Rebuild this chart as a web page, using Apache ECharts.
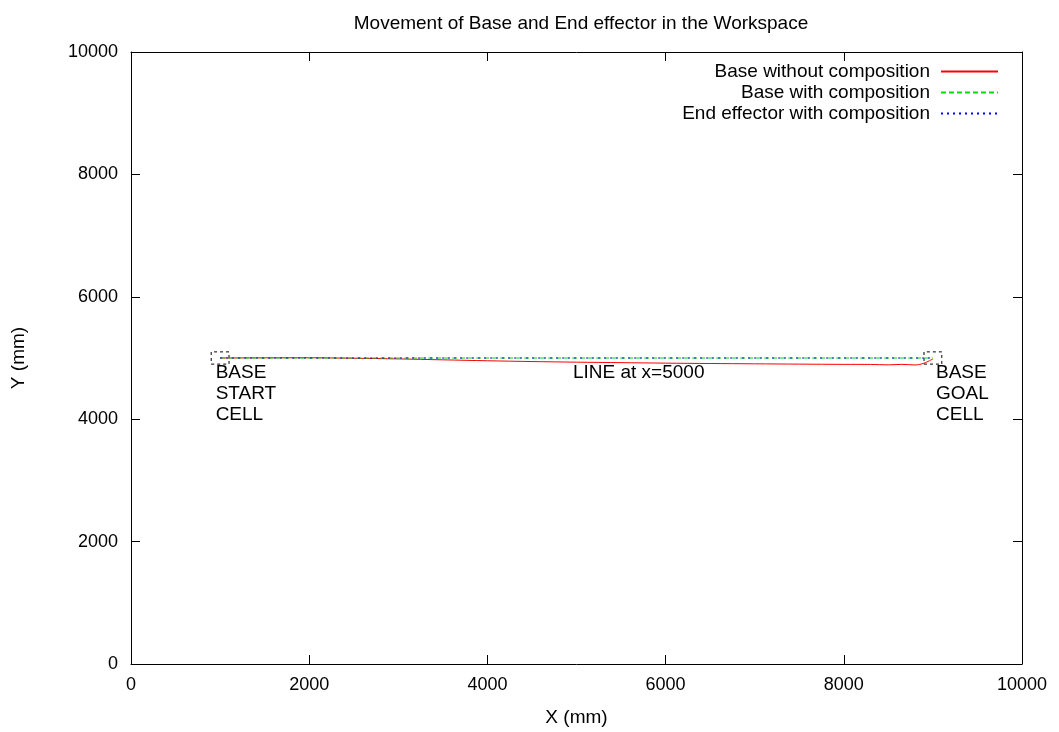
<!DOCTYPE html>
<html>
<head>
<meta charset="utf-8">
<script src="https://cdn.jsdelivr.net/npm/echarts@6/dist/echarts.min.js"></script>
<style>html,body{margin:0;padding:0;background:#fff}#c{width:1059px;height:732px}</style>
</head>
<body>
<div id="c"></div>
<script>
// ---- data ----
const titleText = 'Movement of Base and End effector in the Workspace';
const seriesNames = ['Base without composition', 'Base with composition', 'End effector with composition'];
const redX = [1000, 1500, 2000, 2500, 3000, 3500, 4000, 4500, 5000, 5500, 6000, 6500, 7000, 7500, 8000, 8300, 8500, 8650, 8800, 8900, 9000];
const redY = [5000, 5003, 5004, 4996, 4985, 4970, 4955, 4942, 4932, 4924, 4916, 4910, 4905, 4900, 4896, 4895, 4888, 4896, 4886, 4915, 4985];
const greenX = [1000, 9000];
const greenY = [5000, 5000];
const blueX = [1000, 9000];
const blueY = [5000, 5000];
const cellCentersX = [1000, 9000];
const cellCentersY = [5000, 5000];
const cellHalf = 100;
const labelTexts = ['BASE\nSTART\nCELL', 'LINE at x=5000', 'BASE\nGOAL\nCELL'];
const labelX = [950, 4960, 9035];
const labelY = [4925, 4925, 4925];

const pairs = (xs, ys) => xs.map((x, i) => [x, ys[i]]);
const FONT = '"Liberation Sans", Arial, sans-serif';

// cell rectangles (separated by gaps)
const cellData = [];
cellCentersX.forEach((cx, i) => {
  const cy = cellCentersY[i];
  cellData.push([cx - cellHalf, cy - cellHalf], [cx + cellHalf, cy - cellHalf],
                [cx + cellHalf, cy + cellHalf], [cx - cellHalf, cy + cellHalf],
                [cx - cellHalf, cy - cellHalf], '-');
});

const axisCommon = {
  min: 0, max: 10000, interval: 2000,
  axisLine: { show: true, onZero: false, lineStyle: { color: '#000', width: 1 } },
  axisTick: { show: true, inside: true, length: 9, lineStyle: { color: '#000' } },
  splitLine: { show: false },
  axisLabel: { color: '#000', fontSize: 18, fontFamily: FONT, formatter: v => String(v) }
};

const chart = echarts.init(document.getElementById('c'), null, { renderer: 'canvas' });
chart.setOption({
  animation: false,
  backgroundColor: '#fff',
  title: {
    text: titleText, left: 576, top: 9, textAlign: 'center',
    textStyle: { color: '#000', fontSize: 19, fontWeight: 'normal', fontFamily: FONT }
  },
  grid: { left: 131, right: 37, top: 52, bottom: 63 },
  legend: {
    data: seriesNames,
    orient: 'vertical', align: 'right',
    right: 60, top: 62, padding: 0,
    itemWidth: 57, itemHeight: 15, itemGap: 2,
    itemStyle: { opacity: 0 },
    textStyle: { color: '#000', fontSize: 19, lineHeight: 15, fontFamily: FONT, padding: [0, 6, 0, 0] },
    selectedMode: false
  },
  xAxis: [
    Object.assign({}, axisCommon, {
      type: 'value', position: 'bottom',
      name: 'X (mm)', nameLocation: 'middle', nameGap: 44,
      nameTextStyle: { color: '#000', fontSize: 19, fontFamily: FONT },
      axisLabel: Object.assign({}, axisCommon.axisLabel, { margin: 12 })
    }),
    Object.assign({}, axisCommon, {
      type: 'value', position: 'top', axisLabel: { show: false }
    })
  ],
  yAxis: [
    Object.assign({}, axisCommon, {
      type: 'value', position: 'left',
      name: 'Y (mm)', nameLocation: 'middle', nameGap: 103,
      nameTextStyle: { color: '#000', fontSize: 19, fontFamily: FONT },
      axisLabel: Object.assign({}, axisCommon.axisLabel, { margin: 13 })
    }),
    Object.assign({}, axisCommon, {
      type: 'value', position: 'right', axisLabel: { show: false }
    })
  ],
  series: [
    {
      name: 'cells', type: 'line', data: cellData, symbol: 'none', silent: true,
      connectNulls: false,
      lineStyle: { color: '#000', width: 1, type: [3, 3] }, z: 1
    },
    {
      name: seriesNames[0], type: 'line', data: pairs(redX, redY), symbol: 'none',
      smooth: 0.3, silent: true,
      itemStyle: { color: '#ff0000' }, lineStyle: { color: '#ff0000', width: 1 }, z: 2
    },
    {
      name: seriesNames[1], type: 'line', data: pairs(greenX, greenY), symbol: 'none', silent: true,
      itemStyle: { color: '#00e000' }, lineStyle: { color: '#00e000', width: 1, type: [5, 3] }, z: 3
    },
    {
      name: seriesNames[2], type: 'line', data: pairs(blueX, blueY), symbol: 'none', silent: true,
      itemStyle: { color: '#0000ff' }, lineStyle: { color: '#0000ff', width: 1, type: [2, 4] }, z: 4
    },
    {
      name: 'labels', type: 'scatter', symbolSize: 0, silent: true,
      itemStyle: { opacity: 1, color: '#000' },
      data: labelX.map((x, i) => ({ value: [x, labelY[i]], label: { formatter: labelTexts[i] } })),
      label: {
        show: true, position: [0, 0], align: 'left', verticalAlign: 'top',
        color: '#000', fontSize: 19, fontFamily: FONT, lineHeight: 21
      }, z: 5
    }
  ]
});
</script>
</body>
</html>
